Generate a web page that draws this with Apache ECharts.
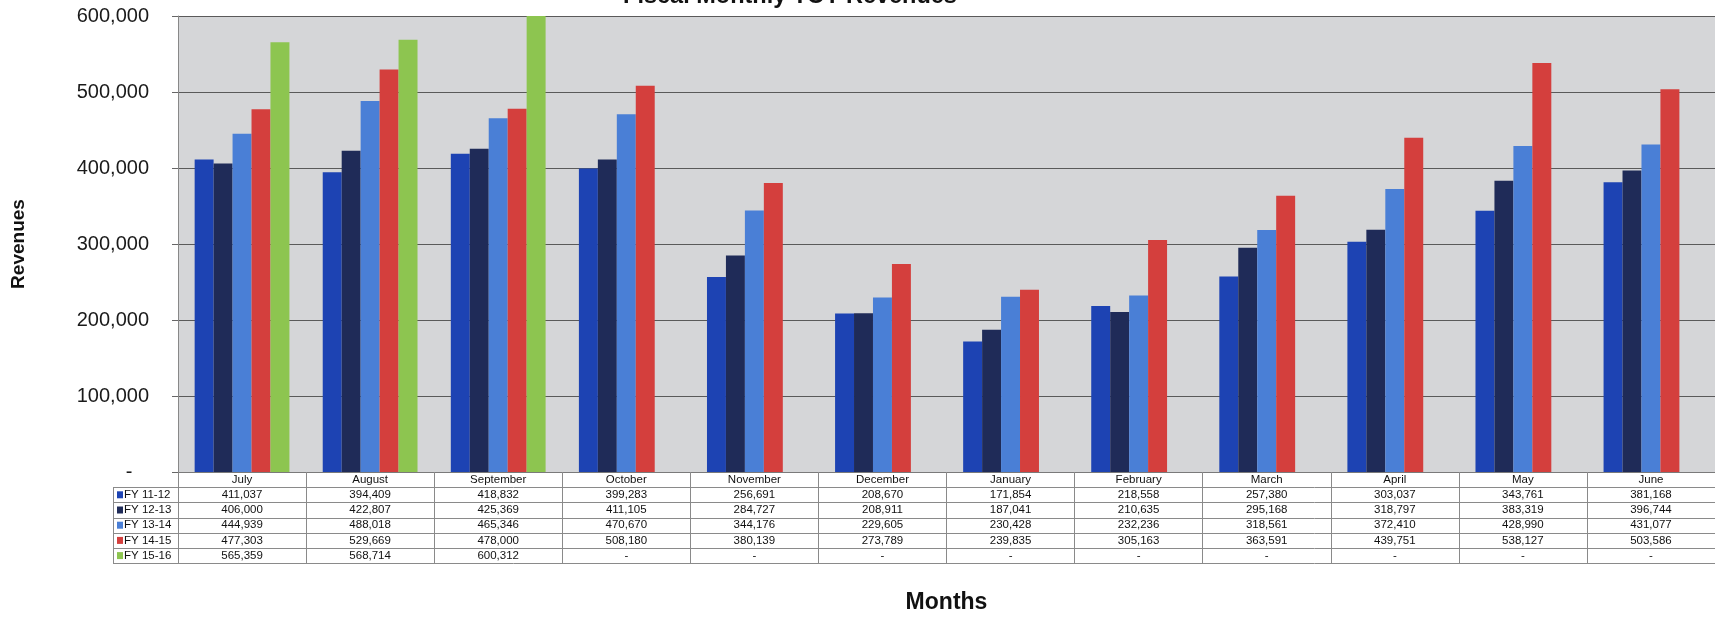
<!DOCTYPE html>
<html>
<head>
<meta charset="utf-8">
<script src="https://cdn.jsdelivr.net/npm/echarts@6/dist/echarts.min.js"></script>
<style>
html,body{margin:0;padding:0;background:#fff;}
#chart{width:1715px;height:619px;}
</style>
</head>
<body>
<div id="chart"></div>
<script>
const categories = ['July','August','September','October','November','December','January','February','March','April','May','June'];
const seriesNames = ['FY 11-12','FY 12-13','FY 13-14','FY 14-15','FY 15-16'];
const fy1112 = [411037,394409,418832,399283,256691,208670,171854,218558,257380,303037,343761,381168];
const fy1213 = [406000,422807,425369,411105,284727,208911,187041,210635,295168,318797,383319,396744];
const fy1314 = [444939,488018,465346,470670,344176,229605,230428,232236,318561,372410,428990,431077];
const fy1415 = [477303,529669,478000,508180,380139,273789,239835,305163,363591,439751,538127,503586];
const fy1516 = [565359,568714,600312,null,null,null,null,null,null,null,null,null];
const seriesData = [fy1112, fy1213, fy1314, fy1415, fy1516];
const colors = ['#1d43b3','#1f2b58','#4a7fd6','#d43f3d','#8dc550'];

const FONT = 'Liberation Sans, Arial, sans-serif';
const fmt = v => (v === null || v === undefined) ? '-' : v.toLocaleString('en-US');

const chart = echarts.init(document.getElementById('chart'));
chart.setOption({
  animation: false,
  title: {
    text: 'Fiscal Monthly TOT Revenues',
    left: 785, top: -20, textAlign: 'center',
    textStyle: {fontFamily: FONT, fontSize: 23.5, fontWeight: 'bold', color: '#111'}
  },
  grid: {left: 178, right: 0, top: 16, bottom: 142, show: true, backgroundColor: '#d5d6d8', borderWidth: 0},
  xAxis: {
    type: 'category', data: categories,
    name: 'Months', nameLocation: 'middle', nameGap: 119,
    nameTextStyle: {fontFamily: FONT, fontSize: 23, fontWeight: 'bold', color: '#111'},
    axisLine: {show: true, lineStyle: {color: '#7a7a7a', width: 1}},
    axisTick: {show: true, length: 91, lineStyle: {color: '#8a8a8a', width: 1}},
    axisLabel: {fontFamily: FONT, fontSize: 11.5, color: '#111', margin: 2, interval: 0}
  },
  yAxis: {
    type: 'value', min: 0, max: 600000, interval: 100000,
    name: 'Revenues', nameLocation: 'middle', nameGap: 150, nameRotate: 90,
    nameTextStyle: {fontFamily: FONT, fontSize: 19, fontWeight: 'bold', color: '#111'},
    axisLine: {show: true, lineStyle: {color: '#888', width: 1}},
    axisTick: {show: true, length: 6, lineStyle: {color: '#666'}},
    axisLabel: {fontFamily: FONT, fontSize: 20, color: '#1a1a1a', margin: 29,
      formatter: v => v === 0 ? '-   ' : v.toLocaleString('en-US')},
    splitLine: {show: true, lineStyle: {color: '#5a5a5a', width: 1.2}}
  },
  series: seriesNames.map((n, i) => ({
    name: n, type: 'bar', data: seriesData[i],
    barGap: '0%', barCategoryGap: '26%',
    itemStyle: {color: colors[i]}
  }))
});

function buildTable() {
  const xs = categories.map((c, i) => chart.convertToPixel({xAxisIndex: 0}, i));
  const step = xs[1] - xs[0];
  const right = xs[xs.length - 1] + step / 2;
  const top = chart.convertToPixel({yAxisIndex: 0}, 0);
  const rowH = 15.2;
  const tableLeft = 113;
  const els = [];
  const lineStyle = {stroke: '#8a8a8a', lineWidth: 1};
  for (let r = 1; r <= 6; r++) {
    const y = Math.round(top + rowH * r) + 0.5;
    els.push({type: 'line', shape: {x1: tableLeft, y1: y, x2: right, y2: y}, style: lineStyle, silent: true});
  }
  els.push({type: 'line', shape: {x1: tableLeft + 0.5, y1: Math.round(top + rowH) + 0.5, x2: tableLeft + 0.5, y2: Math.round(top + rowH * 6) + 0.5}, style: lineStyle, silent: true});
  seriesNames.forEach((n, i) => {
    const yc = top + rowH * (i + 1) + rowH / 2;
    els.push({type: 'rect', shape: {x: tableLeft + 4, y: yc - 3.5, width: 6, height: 7}, style: {fill: colors[i]}, silent: true});
    els.push({type: 'text', x: tableLeft + 11, y: yc, style: {text: n, fontFamily: FONT, fontSize: 11.5, fill: '#111', verticalAlign: 'middle', align: 'left'}, silent: true});
    seriesData[i].forEach((v, j) => {
      els.push({type: 'text', x: xs[j], y: yc, style: {text: fmt(v), fontFamily: FONT, fontSize: 11.5, fill: '#111', verticalAlign: 'middle', align: 'center'}, silent: true});
    });
  });
  chart.setOption({graphic: {elements: els}});
}
buildTable();
</script>
</body>
</html>
